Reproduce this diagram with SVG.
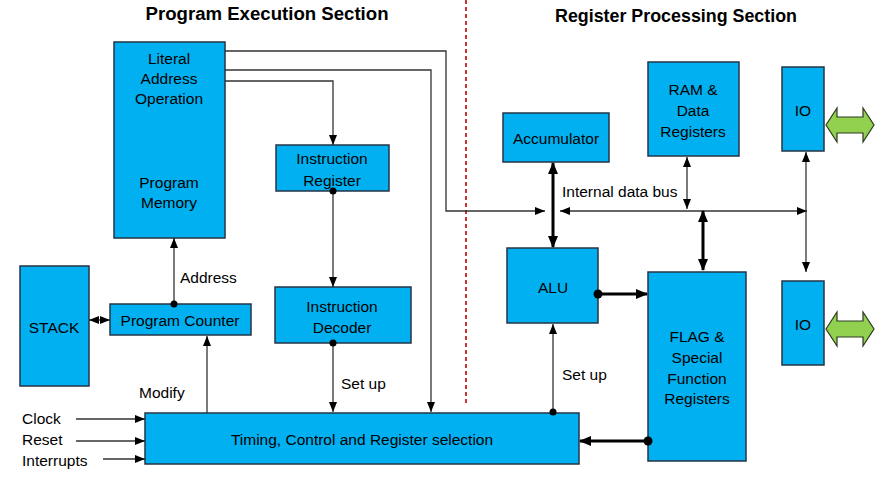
<svg xmlns="http://www.w3.org/2000/svg" width="886" height="479" viewBox="0 0 886 479">
<defs>
<style>
.box{fill:#00B0F0;stroke:#243447;stroke-width:1.5}
.t{font-family:"Liberation Sans",Arial,sans-serif;font-size:15.5px;fill:#000;text-anchor:middle;dominant-baseline:central}
.l{font-family:"Liberation Sans",Arial,sans-serif;font-size:15.5px;fill:#000;dominant-baseline:central}
.title{font-family:"Liberation Sans",Arial,sans-serif;font-size:18px;font-weight:bold;fill:#000;text-anchor:middle}
.w{fill:none;stroke:#333;stroke-width:1.3}
.k{fill:none;stroke:#000;stroke-width:3}
.g{fill:#92D050;stroke:#2B3A20;stroke-width:1.2}
</style>
<marker id="a" markerUnits="userSpaceOnUse" markerWidth="10" markerHeight="10" viewBox="0 0 10 10" refX="10" refY="5" orient="auto-start-reverse"><path d="M0,1 L10,5 L0,9 Z" fill="#000"/></marker>
<marker id="b" markerUnits="userSpaceOnUse" markerWidth="12" markerHeight="12" viewBox="0 0 12 12" refX="11" refY="6" orient="auto-start-reverse"><path d="M0,1 L12,6 L0,11 Z" fill="#000"/></marker>
</defs>

<text class="title" x="267" y="20" textLength="243" lengthAdjust="spacingAndGlyphs">Program Execution Section</text>
<text class="title" x="676" y="22" textLength="242" lengthAdjust="spacingAndGlyphs">Register Processing Section</text>
<line x1="466" y1="0" x2="466" y2="405" stroke="#C00000" stroke-width="1.6" stroke-dasharray="4,3"/>

<g id="program-memory"><rect class="box" x="114" y="42" width="111" height="196"/>
<text class="t" x="169" y="58">Literal</text><text class="t" x="169" y="78">Address</text><text class="t" x="169" y="98">Operation</text>
<text class="t" x="169" y="182">Program</text><text class="t" x="169" y="202">Memory</text></g>
<g id="instruction-register"><rect class="box" x="276" y="145" width="113" height="46"/>
<text class="t" x="332" y="158">Instruction</text><text class="t" x="332" y="180">Register</text></g>
<g id="instruction-decoder"><rect class="box" x="275" y="287" width="136" height="56"/>
<text class="t" x="342" y="306">Instruction</text><text class="t" x="342" y="327">Decoder</text></g>
<g id="stack"><rect class="box" x="20" y="266" width="69" height="120"/>
<text class="t" x="54" y="327">STACK</text></g>
<g id="program-counter"><rect class="box" x="110" y="304" width="141" height="31"/>
<text class="t" x="180" y="320">Program Counter</text></g>
<g id="timing"><rect class="box" x="145" y="413" width="434" height="51"/>
<text class="t" x="362" y="439">Timing, Control and Register selection</text></g>
<g id="accumulator"><rect class="box" x="503" y="113" width="106" height="49"/>
<text class="t" x="556" y="138">Accumulator</text></g>
<g id="ram"><rect class="box" x="648" y="62" width="91" height="94"/>
<text class="t" x="693" y="89">RAM &amp;</text><text class="t" x="693" y="110">Data</text><text class="t" x="693" y="131">Registers</text></g>
<g id="io-top"><rect class="box" x="782" y="67" width="42" height="84"/>
<text class="t" x="803" y="110">IO</text>
<path class="g" d="M826,125 L837,108 L837,117 L863,117 L863,108 L874,125 L863,142 L863,133 L837,133 L837,142 Z"/></g>
<g id="alu"><rect class="box" x="507" y="248" width="91" height="75"/>
<text class="t" x="553" y="287">ALU</text></g>
<g id="flag"><rect class="box" x="648" y="272" width="98" height="189"/>
<text class="t" x="697" y="336">FLAG &amp;</text><text class="t" x="697" y="357">Special</text><text class="t" x="697" y="378">Function</text><text class="t" x="697" y="398">Registers</text></g>
<g id="io-bottom"><rect class="box" x="782" y="281" width="42" height="84"/>
<text class="t" x="803" y="324">IO</text>
<path class="g" d="M826,329 L837,312 L837,321 L863,321 L863,312 L874,329 L863,346 L863,337 L837,337 L837,346 Z"/></g>

<g id="connectors">
<polyline class="w" points="225,51 446,51 446,211 545,211" marker-end="url(#a)"/>
<polyline class="w" points="225,70 431,70 431,412" marker-end="url(#a)"/>
<polyline class="w" points="225,81 333,81 333,145" marker-end="url(#a)"/>
<line class="w" x1="333" y1="191" x2="333" y2="287" marker-end="url(#a)"/>
<circle cx="333" cy="191" r="3.5"/>
<line class="w" x1="333" y1="343" x2="333" y2="412" marker-end="url(#a)"/>
<circle cx="333" cy="343" r="3.5"/>
<line class="w" x1="174" y1="304" x2="174" y2="238" marker-end="url(#a)"/>
<circle cx="174" cy="304" r="3.5"/>
<line class="w" x1="89" y1="320" x2="110" y2="320" marker-start="url(#a)" marker-end="url(#a)"/>
<line class="w" x1="207" y1="413" x2="207" y2="336" marker-end="url(#a)"/>
<line class="w" x1="76" y1="419" x2="145" y2="419" marker-end="url(#a)"/>
<line class="w" x1="76" y1="441" x2="145" y2="441" marker-end="url(#a)"/>
<line class="w" x1="103" y1="459" x2="145" y2="459" marker-end="url(#a)"/>
<line class="w" x1="560" y1="211" x2="807" y2="211" marker-start="url(#a)" marker-end="url(#a)"/>
<line class="k" x1="553" y1="163" x2="553" y2="247" marker-start="url(#b)" marker-end="url(#b)"/>
<line class="w" x1="687" y1="157" x2="687" y2="209" marker-start="url(#a)" marker-end="url(#a)"/>
<line class="k" x1="703" y1="211" x2="703" y2="270" marker-start="url(#b)" marker-end="url(#b)"/>
<line class="w" x1="806" y1="152" x2="806" y2="272" marker-start="url(#a)" marker-end="url(#a)"/>
<line class="k" x1="598" y1="294" x2="647" y2="294" marker-end="url(#b)"/>
<circle cx="598" cy="294" r="4.5"/>
<line class="k" x1="648" y1="441" x2="580" y2="441" marker-end="url(#b)"/>
<circle cx="648" cy="441" r="4.5"/>
<line class="w" x1="553" y1="412" x2="553" y2="324" marker-end="url(#a)"/>
<circle cx="553" cy="412" r="3.5"/>
</g>

<g id="labels">
<text class="l" x="180" y="277">Address</text>
<text class="l" x="139" y="392">Modify</text>
<text class="l" x="341" y="383">Set up</text>
<text class="l" x="562" y="374">Set up</text>
<text class="l" x="562" y="191">Internal data bus</text>
<text class="l" x="22" y="418">Clock</text>
<text class="l" x="22" y="439">Reset</text>
<text class="l" x="22" y="460">Interrupts</text>
</g>
</svg>
